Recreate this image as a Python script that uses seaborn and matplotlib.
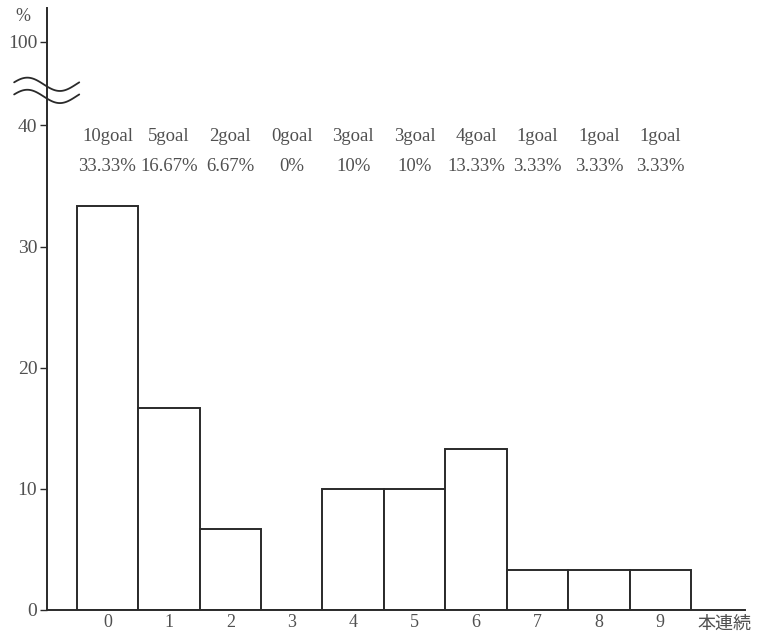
import numpy as np
import pandas as pd
import seaborn as sns
from matplotlib import pyplot as plt

# consecutive-goal streak histogram
streaks = ["0", "1", "2", "3", "4", "5", "6", "7", "8", "9"]
percent = [33.33, 16.67, 6.67, 0, 10, 10, 13.33, 3.33, 3.33, 3.33]
goal_labels = ["10goal", "5goal", "2goal", "0goal", "3goal", "3goal", "4goal", "1goal", "1goal", "1goal"]
pct_labels = ["33.33%", "16.67%", "6.67%", "0%", "10%", "10%", "13.33%", "3.33%", "3.33%", "3.33%"]
y_ticks = [0, 10, 20, 30, 40]
top_tick_label = "100"

sns.set_style("white")
plt.rcParams['font.family'] = ['Liberation Serif', 'Noto Sans CJK JP']
ink = "#2a2a2a"
text_ink = "#505050"

fig = plt.figure(figsize=(7.57, 6.34), dpi=100)
ax = fig.add_axes([47 / 757, 24 / 634, 698 / 757, (610 - 8) / 634])

df = pd.DataFrame({"streak": streaks, "percent": percent})
sns.barplot(data=df, x="streak", y="percent", ax=ax, width=1.0,
            color="white", edgecolor=ink, linewidth=1.4, errorbar=None)

ax.set_xlim(-0.985, 10.38)
ax.set_ylim(0, 49.7)

# broken axis: 100 sits above the break
ax.set_yticks(y_ticks + [46.9])
ax.set_yticklabels([str(t) for t in y_ticks] + [top_tick_label], fontsize=14, color=text_ink)
ax.tick_params(axis="y", length=5, width=1, color=ink, direction="out", pad=2, left=True)
ax.tick_params(axis="x", length=0, labelsize=13, labelcolor=text_ink, pad=3)
ax.set_xlabel("")
ax.set_ylabel("")
for s in ["top", "right"]:
    ax.spines[s].set_visible(False)
for s in ["left", "bottom"]:
    ax.spines[s].set_color(ink)
    ax.spines[s].set_linewidth(1.4)

ax.text(-1.38, 49.0, "%", fontsize=13, color=text_ink, ha="center", va="center", clip_on=False)
ax.text(10.05, -1.1, "本連続", fontsize=13, color=text_ink, ha="center", va="center",
        family=['Noto Sans CJK JP', 'DejaVu Sans'], clip_on=False)

# break marks
xs = np.linspace(-1.52, -0.46, 60)
wave = 0.55 * np.sin((xs + 1.52) / 1.06 * 2 * np.pi + 0.3)
for off in [43.4, 42.4]:
    ax.plot(xs, off + wave, color=ink, lw=1.3, clip_on=False)

for i, (g, p) in enumerate(zip(goal_labels, pct_labels)):
    ax.text(i, 39.1, g, ha="center", va="center", fontsize=13.5, color=text_ink)
    ax.text(i, 36.6, p, ha="center", va="center", fontsize=13.5, color=text_ink)

plt.savefig("out.png", dpi=100)
